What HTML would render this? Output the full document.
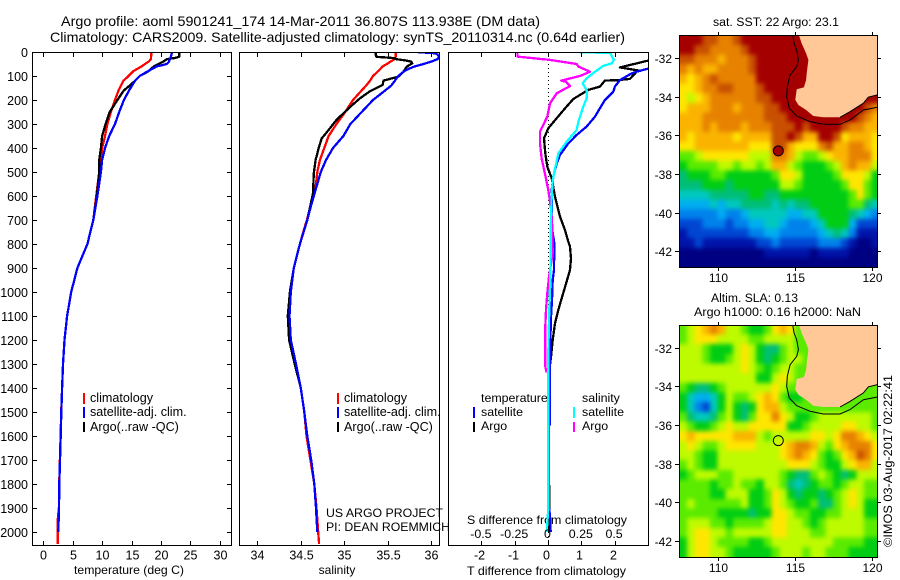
<!DOCTYPE html>
<html>
<head>
<meta charset="utf-8">
<title>Argo profile</title>
<style>
html,body{margin:0;padding:0;background:#fff;}
svg{display:block;}
text{font-family:"Liberation Sans",Arial,sans-serif;fill:#000;}
</style>
</head>
<body>
<svg id="figure" xmlns="http://www.w3.org/2000/svg" width="900" height="580" viewBox="0 0 900 580">
<rect width="900" height="580" fill="#fff"/>
<defs>
<clipPath id="clip-p1"><rect x="32" y="52" width="200" height="494"/></clipPath>
<clipPath id="clip-p2"><rect x="239" y="52" width="201" height="494"/></clipPath>
<clipPath id="clip-p3"><rect x="448" y="52" width="201" height="494"/></clipPath>
<clipPath id="clip-m1"><rect x="679" y="35" width="199" height="233"/></clipPath>
<clipPath id="clip-m2"><rect x="679" y="325" width="199" height="233"/></clipPath>
<filter id="field-smooth" x="-10%" y="-10%" width="120%" height="120%" color-interpolation-filters="sRGB"><feGaussianBlur stdDeviation="2.5"/></filter>
</defs>
<text x="61" y="26" font-size="14" textLength="479" lengthAdjust="spacingAndGlyphs">Argo profile: aoml 5901241_174 14-Mar-2011 36.807S 113.938E (DM data)</text>
<text x="50" y="42" font-size="14" textLength="575" lengthAdjust="spacingAndGlyphs">Climatology: CARS2009. Satellite-adjusted climatology: synTS_20110314.nc (0.64d earlier)</text>

<text x="74" y="574" font-size="12" textLength="110" lengthAdjust="spacingAndGlyphs">temperature (deg C)</text>
<text x="337" y="574" font-size="12" text-anchor="middle">salinity</text>
<text x="467" y="575" font-size="12" textLength="159" lengthAdjust="spacingAndGlyphs">T difference from climatology</text>
<text x="467" y="524" font-size="12" textLength="160" lengthAdjust="spacingAndGlyphs">S difference from climatology</text>

<g font-size="12.6">
<rect x="83" y="393" width="2" height="11" fill="#f00"/>
<rect x="83" y="407" width="2" height="11" fill="#00f"/>
<rect x="83" y="422" width="2" height="10" fill="#000"/>
<text x="90" y="402">climatology</text>
<text x="90" y="416">satellite-adj. clim.</text>
<text x="90" y="431">Argo(..raw -QC)</text>
</g>
<g font-size="12.6">
<rect x="337" y="393" width="2" height="11" fill="#f00"/>
<rect x="337" y="407" width="2" height="11" fill="#00f"/>
<rect x="337" y="422" width="2" height="10" fill="#000"/>
<text x="344" y="402">climatology</text>
<text x="344" y="416">satellite-adj. clim.</text>
<text x="344" y="431">Argo(..raw -QC)</text>
</g>
<g font-size="12.4">
<text x="481" y="402">temperature</text>
<text x="582" y="402">salinity</text>
<rect x="473" y="407" width="2" height="11" fill="#00f"/>
<rect x="473" y="422" width="2" height="10" fill="#000"/>
<rect x="573" y="407" width="2" height="11" fill="#0ff"/>
<rect x="573" y="422" width="2" height="10" fill="#f0f"/>
<text x="481" y="416">satellite</text>
<text x="481" y="430">Argo</text>
<text x="582" y="416">satellite</text>
<text x="582" y="430">Argo</text>
</g>

<text x="713" y="26" font-size="11.5" textLength="126" lengthAdjust="spacingAndGlyphs">sat. SST: 22 Argo: 23.1</text>
<text x="711" y="302" font-size="11.5" textLength="87" lengthAdjust="spacingAndGlyphs">Altim. SLA: 0.13</text>
<text x="694" y="316" font-size="11.5" textLength="167" lengthAdjust="spacingAndGlyphs">Argo h1000: 0.16 h2000: NaN</text>
<text transform="translate(892,547) rotate(-90)" font-size="12" textLength="172" lengthAdjust="spacingAndGlyphs">©IMOS 03-Aug-2017 02:22:41</text>

<g id="layer-plots"></g>
<g id="layer-maps"></g>

<text x="326" y="517" font-size="12" textLength="117" lengthAdjust="spacingAndGlyphs">US ARGO PROJECT</text>
<text x="326" y="531" font-size="12" textLength="124" lengthAdjust="spacingAndGlyphs">PI: DEAN ROEMMICH</text>
</svg>

<script>
// ---------- axis tick labels ----------
const depthTicks = [0,100,200,300,400,500,600,700,800,900,1000,1100,1200,1300,1400,1500,1600,1700,1800,1900,2000];
const tempTicks = [0,5,10,15,20,25,30];
const salTicks = [34,34.5,35,35.5,36];
const tDiffTicks = [-2,-1,0,1,2];
const sDiffTicks = [-0.5,-0.25,0,0.25,0.5];
const sDiffLabels = ['-0.5','-0.25','0','0.25','0.5'];
const lonTicks = [110,115,120];
const latTicks = [-32,-34,-36,-38,-40,-42];

// ---------- temperature profiles ----------
const tempClimDepths = [0,30,40,60,80,100,120,160,200,250,300,350,400,450,500,600,700,800,900,1000,1100,1200,1300,1400,1500,1600,1700,1800,1900,1950,2050];
const tempClimValues = [18.4,18.3,17.9,16.7,15.3,14.5,13.6,12.8,12.2,11.5,10.9,10.5,10.0,9.8,9.5,9.0,8.5,7.5,5.8,4.75,4.05,3.6,3.35,3.2,3.05,2.95,2.82,2.7,2.65,2.45,2.45];
const tempArgoDepths = [0,20,25,30,40,50,60,80,100,120,140,160,200,250,300,350,400,450,500,600,700,800,900,1000,1100,1200,1300,1400,1500,1600,1700,1800,1900,2000];
const tempArgoValues = [23.1,23.1,22.4,21.0,20.4,19.6,18.8,17.9,16.4,15.6,14.7,13.7,12.6,11.3,10.6,10.0,9.8,9.5,9.5,9.1,8.5,7.5,5.8,4.75,4.05,3.6,3.35,3.2,3.06,2.96,2.84,2.72,2.67,2.55];
const tempSatDepths = [0,20,30,40,50,60,80,100,120,140,160,200,250,300,350,400,450,500,600,700,800,900,1000,1100,1200,1300,1400,1500,1600,1700,1800,1900,2000];
const tempSatValues = [21.9,21.7,21.5,21.4,21.0,19.3,17.8,16.4,15.6,15.1,14.6,13.7,12.9,12.2,11.2,10.5,10.0,9.8,9.2,8.5,7.5,5.8,4.75,4.05,3.6,3.35,3.2,3.06,2.96,2.84,2.72,2.67,2.55];

// ---------- salinity profiles ----------
const salClimDepths = [0,20,30,50,60,80,100,120,140,160,200,250,300,350,400,450,500,550,600,650,700,735,800,900,1000,1100,1200,1300,1400,1500,1600,1700,1800,1900,2000,2050];
const salClimValues = [35.59,35.59,35.575,35.49,35.44,35.39,35.33,35.295,35.25,35.2,35.1,35.01,34.91,34.82,34.77,34.72,34.69,34.675,34.64,34.605,34.57,34.54,34.49,34.42,34.385,34.37,34.385,34.445,34.5,34.54,34.565,34.61,34.655,34.68,34.7,34.71];
const salArgoDepths = [0,10,20,25,30,35,40,47,61,82,103,119,137,165,193,228,283,325,360,394,450,505,589,700,800,900,1000,1100,1200,1300,1400,1500,1600,1700,1800,1900,2000];
const salArgoValues = [35.36,35.36,35.37,35.56,35.6,35.7,35.77,35.78,35.72,35.68,35.62,35.45,35.44,35.29,35.18,35.07,34.91,34.82,34.74,34.71,34.67,34.65,34.64,34.575,34.49,34.42,34.375,34.35,34.365,34.43,34.5,34.54,34.575,34.62,34.655,34.675,34.69];
const salSatDepths = [0,1,5,10,20,30,40,50,60,70,80,100,120,140,160,200,250,300,350,400,450,500,550,600,650,700,800,900,1000,1100,1200,1300,1400,1500,1600,1700,1800,1900,2000];
const salSatValues = [35.85,35.85,36.04,36.07,36.09,36.07,36.0,35.91,35.81,35.74,35.69,35.62,35.58,35.54,35.47,35.33,35.2,35.07,34.99,34.87,34.79,34.73,34.69,34.65,34.61,34.575,34.49,34.42,34.385,34.37,34.385,34.445,34.5,34.54,34.575,34.62,34.655,34.675,34.69];

// ---------- difference profiles ----------
const tDiffArgoDepths = [0,20,36,54,64,78,82,112,117,119,144,158,196,235,276,318,360,422,478,526,603,686,742,790,811,860,908,957,1012,1075,1130,1200,1270,1325,1400,2000];
const tDiffArgoValues = [4.7,4.7,3.01,2.46,2.16,2.76,2.66,2.46,2.11,1.71,1.56,1.21,0.76,0.51,0.26,0.01,-0.12,-0.08,-0.02,0.11,0.21,0.36,0.51,0.61,0.66,0.69,0.66,0.56,0.44,0.31,0.21,0.14,0.09,0.04,0.02,0.04];
const tDiffSatDepths = [0,69,82,89,117,144,165,200,269,311,346,381,429,464,519,575,671,742,797,908,950,1033,1103,1255,1339,1450,1550,1560,1900,1930,2000];
const tDiffSatValues = [3.5,3.01,2.66,2.51,2.16,2.01,1.96,1.71,1.41,1.16,0.86,0.61,0.36,0.26,0.16,0.11,0.11,0.13,0.19,0.18,0.14,0.12,0.09,0.06,0.06,0.06,0.06,0.02,0.03,0.06,0.08];
const sDiffArgoDepths = [5,19,33,50,61,82,100,119,124,142,172,214,269,332,381,443,506,575,672,739,839,936,1005,1075,1144,1311,1336];
const sDiffArgoValues = [-0.23,-0.23,0.015,0.215,0.228,0.315,0.24,0.10,0.135,0.165,0.065,0.015,-0.005,-0.06,-0.06,-0.048,-0.023,0.0025,0.028,0.032,0.035,0.0075,-0.005,-0.015,-0.02,-0.02,-0.01];
const sDiffSatDepths = [2,3,33,47,58,82,110,131,158,193,228,290,325,374,422,485,533,603,739,840,978,1117,1255,1900,2000];
const sDiffSatValues = [0.235,0.465,0.495,0.478,0.415,0.353,0.29,0.26,0.29,0.29,0.265,0.228,0.215,0.14,0.078,0.053,0.035,0.028,0.02,0.02,0.015,0.0075,0.0025,0.0025,-0.01];

// ---------- map coastline and contour (lon / lat) ----------
const landLons = [115.28,115.45,115.74,115.89,115.78,115.74,115.6,115.13,115.04,115.24,115.74,116.21,116.86,117.94,118.59,119.46,119.78,120.37,120.37];
const landLats = [-30.83,-31.24,-31.76,-32.1,-32.79,-33.14,-33.52,-33.62,-34.17,-34.43,-34.69,-35,-35.07,-35.07,-34.78,-34.34,-34.03,-33.91,-30.83];
const contourLons = [114.87,114.96,115.13,115.24,115.13,114.7,114.52,114.48,114.65,115.13,116,116.86,117.94,118.59,119.46,120.37];
const contourLats = [-30.83,-31.24,-31.59,-32.1,-32.45,-32.88,-33.48,-34,-34.6,-35,-35.29,-35.43,-35.43,-35.2,-34.69,-34.55];
const profileLon = [113.938];
const profileLat = [-36.807];
const sstAtProfile = [13.6];

// ---------- heatmap colour levels (0 = cold/low ... 14 = hot/high), half-degree cells ----------
const sstGrid = [
[14,14,14,13,13,12,12,13,14,14,14,14,14,14,14,14,14,14,14,14,14,14,14,14,14,14],
[14,14,13,13,12,12,12,12,13,14,14,14,14,14,14,14,14,14,14,14,14,14,14,14,14,14],
[13,13,12,12,12,11,12,12,12,13,14,14,14,14,14,14,14,14,14,14,14,14,14,14,14,14],
[12,11,12,11,11,12,12,12,12,13,14,14,14,14,14,14,14,14,14,14,14,14,14,14,14,14],
[11,10,11,12,13,12,12,12,12,12,14,14,14,14,14,14,14,14,14,14,14,14,14,14,14,14],
[10,10,11,12,12,13,13,12,12,12,13,14,14,14,14,14,14,14,14,14,14,14,14,14,14,14],
[10,9,10,11,12,12,12,12,12,12,13,13,14,14,14,14,14,14,14,14,14,14,14,14,14,14],
[10,11,11,11,12,12,12,11,12,12,12,13,13,14,14,14,14,14,14,14,14,14,14,14,13,12],
[11,11,11,12,12,12,12,12,12,12,12,13,13,13,14,14,14,14,14,14,14,14,14,13,12,11],
[11,11,11,12,11,12,12,12,11,12,12,12,13,13,13,14,13,14,14,14,14,13,12,12,11,11],
[11,10,11,11,11,11,11,10,11,11,11,11,13,13,14,13,11,11,14,14,13,10,11,11,11,10],
[10,10,11,11,11,11,11,11,11,10,10,10,13,13,11,10,10,10,12,13,11,11,12,12,11,10],
[8,8,9,10,10,10,10,10,10,9,9,9,12,12,11,9,8,8,9,10,11,11,12,12,12,10],
[7,8,8,8,8,9,9,8,9,9,8,9,11,11,9,8,7,7,7,8,9,11,12,11,11,9],
[6,7,7,7,8,8,7,7,7,7,7,7,8,10,10,9,7,7,7,7,8,10,10,10,9,7],
[6,6,6,7,7,7,6,7,7,7,7,7,7,9,9,8,7,7,7,7,7,8,10,10,8,7],
[5,5,5,5,6,6,6,6,6,7,7,6,6,7,7,7,7,7,7,7,7,7,8,10,8,7],
[4,4,4,4,5,4,5,5,6,6,6,6,5,6,5,6,6,7,7,7,7,7,8,8,6,5],
[3,3,3,3,3,4,3,3,4,5,5,5,5,5,4,4,5,5,7,7,7,7,6,5,4,3],
[2,2,2,3,3,3,2,3,3,4,4,5,5,4,3,3,3,4,5,7,7,7,4,2,2,2],
[1,2,2,2,2,2,2,2,2,3,3,4,4,3,3,3,3,3,4,5,6,5,3,1,1,1],
[1,1,2,1,1,1,1,1,1,1,2,2,3,2,2,2,2,2,3,3,3,2,1,0,0,1],
[0,0,0,0,0,0,0,0,0,0,0,1,1,1,1,1,1,0,1,1,1,1,0,0,0,0],
[0,0,0,0,0,0,0,0,0,0,0,0,0,0,0,0,0,0,0,0,0,0,0,0,0,0]
];
const slaGrid = [
[8,9,10,11,12,11,9,9,8,7,7,8,10,11,10,8,8,8,8,8,8,8,8,8,8,8],
[8,9,10,10,10,9,9,9,9,8,8,9,9,9,9,8,8,8,8,8,8,8,8,8,8,8],
[9,9,9,8,7,7,7,9,10,9,7,6,6,8,9,8,8,8,8,8,8,8,8,8,8,8],
[9,9,9,8,7,7,8,9,10,9,7,6,7,8,9,9,8,8,8,8,8,8,8,8,8,8],
[9,9,9,9,9,9,9,9,10,9,8,7,8,9,9,8,8,8,8,8,8,8,8,8,8,8],
[9,9,9,9,9,9,9,9,9,9,7,7,9,10,9,8,8,8,8,8,8,8,8,8,8,8],
[8,7,6,6,7,8,9,9,9,9,9,9,10,9,8,8,8,8,8,8,8,8,8,8,8,8],
[7,5,4,4,5,7,9,8,8,9,10,11,10,8,7,7,8,8,8,8,8,8,8,8,8,8],
[7,5,3,2,5,7,9,7,6,7,10,11,11,9,8,8,8,8,8,8,8,8,8,8,8,8],
[8,6,5,5,6,8,9,7,6,8,10,10,12,10,9,7,7,8,9,9,9,9,9,9,9,8],
[9,8,7,7,8,9,10,9,9,10,10,10,10,10,7,7,8,9,9,9,9,10,10,9,9,8],
[10,11,10,10,10,10,10,11,11,11,9,8,9,9,9,9,9,10,10,9,10,12,12,11,10,9],
[9,10,9,8,8,9,10,10,10,10,9,9,9,10,11,12,12,11,9,8,10,11,12,12,12,10],
[9,9,8,7,7,9,9,9,9,9,9,9,9,10,11,12,11,10,8,7,8,10,11,13,12,10],
[8,9,8,7,7,9,9,9,9,9,9,9,9,9,10,10,10,9,8,7,7,9,10,11,11,9],
[7,8,9,9,9,8,8,9,9,9,9,9,9,8,7,6,6,8,9,8,7,6,7,9,9,9],
[8,8,8,8,7,8,8,9,8,8,7,9,9,8,6,5,6,7,8,8,7,8,9,9,8,8],
[8,8,8,8,7,7,9,9,9,7,7,8,10,9,7,6,7,7,6,7,8,9,10,9,8,8],
[8,9,8,8,8,8,8,8,9,7,7,8,10,9,8,7,7,8,6,6,8,9,10,9,7,7],
[8,8,8,8,8,7,7,7,7,6,7,7,10,10,9,8,8,7,7,8,8,9,9,9,7,7],
[8,9,9,9,8,8,7,8,8,8,8,9,10,10,9,9,8,7,8,9,9,9,9,9,8,8],
[8,9,10,10,9,9,8,9,9,9,9,9,10,10,9,9,9,8,8,9,9,9,9,9,8,8],
[7,9,10,10,9,8,8,8,8,7,7,8,9,9,9,9,9,9,9,9,8,8,8,8,7,7],
[7,9,10,10,9,9,8,7,7,7,7,7,8,9,9,9,8,9,9,8,8,8,7,7,7,7]
];
const levelColors = ['rgb(0,0,130)','rgb(0,20,170)','rgb(0,70,210)','rgb(0,130,235)','rgb(0,175,240)','rgb(0,200,190)','rgb(0,190,120)','rgb(0,205,20)','rgb(90,235,0)','rgb(190,250,0)','rgb(255,230,0)','rgb(250,180,0)','rgb(230,130,0)','rgb(200,80,0)','rgb(165,0,0)'];

// ---------- axis functions ----------
const depthY = d => 52 + 0.24 * d;
const tempX = t => 43.3 + 5.88 * t;
const salX = s => 257.3 + 87 * (s - 34);
const tDiffX = t => 548 + 33.3 * t;
const sDiffX = s => 548 + 133.2 * s;
const mapLonX = lon => 717.7 + 15.4 * (lon - 110);
const sstLatY = lat => 58 + 19.33 * (-32 - lat);
const slaLatY = lat => 347.7 + 19.33 * (-32 - lat);

const NS = 'http://www.w3.org/2000/svg';
function make(tag, parent, attrs, text) {
  const el = document.createElementNS(NS, tag);
  for (const k in attrs) el.setAttribute(k, attrs[k]);
  if (text !== undefined) el.textContent = text;
  parent.appendChild(el);
  return el;
}
function tick(parent, x1, y1, x2, y2, name) {
  const el = make('line', parent, {x1, y1, x2, y2, stroke: '#000', 'stroke-width': 1, 'shape-rendering': 'crispEdges'});
  
  
}
function label(parent, x, y, str, anchor, size, name) {
  const el = make('text', parent, {x, y, 'text-anchor': anchor, 'font-size': size}, str);
  
  
}
function box(parent, l, t, r, b, name) {
  const el = make('rect', parent, {x: l + 0.5, y: t + 0.5, width: r - l, height: b - t, fill: 'none', stroke: '#000', 'stroke-width': 1, 'shape-rendering': 'crispEdges'});
  
  
}
function profile(parent, depths, values, xFn, color, name) {
  const pts = depths.map((d, i) => xFn(values[i]).toFixed(1) + ',' + depthY(d).toFixed(1)).join(' ');
  const el = make('polyline', parent, {points: pts, fill: 'none', stroke: color, 'stroke-width': 2.3, 'shape-rendering': 'crispEdges', 'stroke-linejoin': 'round'});
  
  
}

const plots = document.getElementById('layer-plots');
const panelTop = 52, panelBottom = 545;

// panel 1: temperature
const p1 = make('g', plots, {});


const p1Lines = make('g', p1, {'clip-path': 'url(#clip-p1)'});
profile(p1Lines, tempClimDepths, tempClimValues, tempX, '#f00', 'temperature-climatology-line');
profile(p1Lines, tempArgoDepths, tempArgoValues, tempX, '#000', 'temperature-argo-line');
profile(p1Lines, tempSatDepths, tempSatValues, tempX, '#00f', 'temperature-satellite-line');
box(p1, 32, panelTop, 231, panelBottom, 'temperature-plot-box');
depthTicks.forEach(d => {
  const y = Math.round(depthY(d)) + 0.5;
  tick(p1, 32, y, 37, y, 'depth-tick-left');
  tick(p1, 227, y, 232, y, 'depth-tick-right');
  label(p1, 28, y + 4.5, String(d), 'end', 12.5, 'depth-tick-label');
});
tempTicks.forEach(t => {
  const x = Math.round(tempX(t)) + 0.5;
  tick(p1, x, panelTop, x, panelTop + 5, 'temperature-tick-top');
  tick(p1, x, panelBottom - 4, x, panelBottom, 'temperature-tick-bottom');
  label(p1, x, 559.5, String(t), 'middle', 12.5, 'temperature-tick-label');
});

// panel 2: salinity
const p2 = make('g', plots, {});


const p2Lines = make('g', p2, {'clip-path': 'url(#clip-p2)'});
profile(p2Lines, salClimDepths, salClimValues, salX, '#f00', 'salinity-climatology-line');
profile(p2Lines, salArgoDepths, salArgoValues, salX, '#000', 'salinity-argo-line');
profile(p2Lines, salSatDepths, salSatValues, salX, '#00f', 'salinity-satellite-line');
box(p2, 239, panelTop, 439, panelBottom, 'salinity-plot-box');
salTicks.forEach(s => {
  const x = Math.round(salX(s)) + 0.5;
  tick(p2, x, panelTop, x, panelTop + 5, 'salinity-tick-top');
  tick(p2, x, panelBottom - 4, x, panelBottom, 'salinity-tick-bottom');
  label(p2, x, 559.5, String(s), 'middle', 12.5, 'salinity-tick-label');
});

// panel 3: differences
const p3 = make('g', plots, {});


const zeroLine = make('line', p3, {x1: tDiffX(0) + 0.5, y1: depthY(0), x2: tDiffX(0) + 0.5, y2: depthY(2050), stroke: '#000', 'stroke-width': 1, 'stroke-dasharray': '1 3', 'shape-rendering': 'crispEdges'});


const p3Lines = make('g', p3, {'clip-path': 'url(#clip-p3)'});
profile(p3Lines, tDiffArgoDepths, tDiffArgoValues, tDiffX, '#000', 't-difference-argo-line');
profile(p3Lines, tDiffSatDepths, tDiffSatValues, tDiffX, '#00f', 't-difference-satellite-line');
profile(p3Lines, sDiffArgoDepths, sDiffArgoValues, sDiffX, '#f0f', 's-difference-argo-line');
profile(p3Lines, sDiffSatDepths, sDiffSatValues, sDiffX, '#0ff', 's-difference-satellite-line');
box(p3, 448, panelTop, 648, panelBottom, 'difference-plot-box');
tDiffTicks.forEach(t => {
  const x = Math.round(tDiffX(t)) + 0.5;
  tick(p3, x, panelTop, x, panelTop + 5, 't-difference-tick-top');
  tick(p3, x, panelBottom - 4, x, panelBottom, 't-difference-tick-bottom');
  label(p3, x - 2, 559.5, String(t), 'middle', 12.5, 't-difference-tick-label');
});
sDiffTicks.forEach((s, i) => {
  label(p3, sDiffX(s) - 0.5, 538, sDiffLabels[i], 'middle', 12.4, 's-difference-tick-label');
});

// maps
function drawMap(parent, grid, latY, clipId, l, t, r, b, fillMarker, prefix) {
  const g = make('g', parent, {});
  
  
  const inner = make('g', g, {'clip-path': 'url(#' + clipId + ')'});
  const field = make('g', inner, {filter: 'url(#field-smooth)'});
  
  
  const lon0 = 107.5, lat0 = -30.82, step = 0.5, bleed = 12;
  grid.forEach((row, ri) => {
    row.forEach((level, ci) => {
      const x0 = mapLonX(lon0 + ci * step) - (ci === 0 ? bleed : 0);
      const x1 = mapLonX(lon0 + (ci + 1) * step) + (ci === row.length - 1 ? bleed : 0);
      const y0 = latY(lat0 - ri * step) - (ri === 0 ? bleed : 0);
      const y1 = latY(lat0 - (ri + 1) * step) + (ri === grid.length - 1 ? bleed : 0);
      const cell = make('rect', field, {x: x0.toFixed(2), y: y0.toFixed(2), width: (x1 - x0 + 0.6).toFixed(2), height: (y1 - y0 + 0.6).toFixed(2), fill: levelColors[level], 'shape-rendering': 'crispEdges'});
      
      
    });
  });
  const land = make('polygon', inner, {points: landLons.map((lon, i) => mapLonX(lon).toFixed(1) + ',' + latY(landLats[i]).toFixed(1)).join(' '), fill: 'rgb(255,200,150)'});
  
  
  const coast = make('polyline', inner, {points: landLons.slice(13, 18).map((lon, i) => mapLonX(lon).toFixed(1) + ',' + latY(landLats[13 + i]).toFixed(1)).join(' '), fill: 'none', stroke: '#000', 'stroke-width': 1});
  
  
  const contour = make('polyline', inner, {points: contourLons.map((lon, i) => mapLonX(lon).toFixed(1) + ',' + latY(contourLats[i]).toFixed(1)).join(' '), fill: 'none', stroke: '#000', 'stroke-width': 1});
  
  
  const marker = make('circle', inner, {cx: mapLonX(profileLon[0]).toFixed(1), cy: latY(profileLat[0]).toFixed(1), r: 5, fill: fillMarker, stroke: '#000', 'stroke-width': 1});
  
  
  box(g, l, t, r, b, prefix + '-map-box');
  lonTicks.forEach(lon => {
    const x = Math.round(mapLonX(lon)) + 0.5;
    tick(g, x, t - 3, x, t, prefix + '-lon-tick-top');
    tick(g, x, b, x, b + 4, prefix + '-lon-tick-bottom');
    label(g, x, b + 15, String(lon), 'middle', 12, prefix + '-lon-label');
  });
  latTicks.forEach(lat => {
    const y = Math.round(latY(lat)) + 0.5;
    tick(g, l - 4, y, l, y, prefix + '-lat-tick-left');
    tick(g, r, y, r + 4, y, prefix + '-lat-tick-right');
    label(g, l - 7, y + 4.5, String(lat), 'end', 12, prefix + '-lat-label');
  });
}
const maps = document.getElementById('layer-maps');
drawMap(maps, sstGrid, sstLatY, 'clip-m1', 679, 35, 877, 267, levelColors[Math.round(sstAtProfile[0])], 'sst');
drawMap(maps, slaGrid, slaLatY, 'clip-m2', 679, 325, 877, 557, 'none', 'sla');
</script>
</body>
</html>
